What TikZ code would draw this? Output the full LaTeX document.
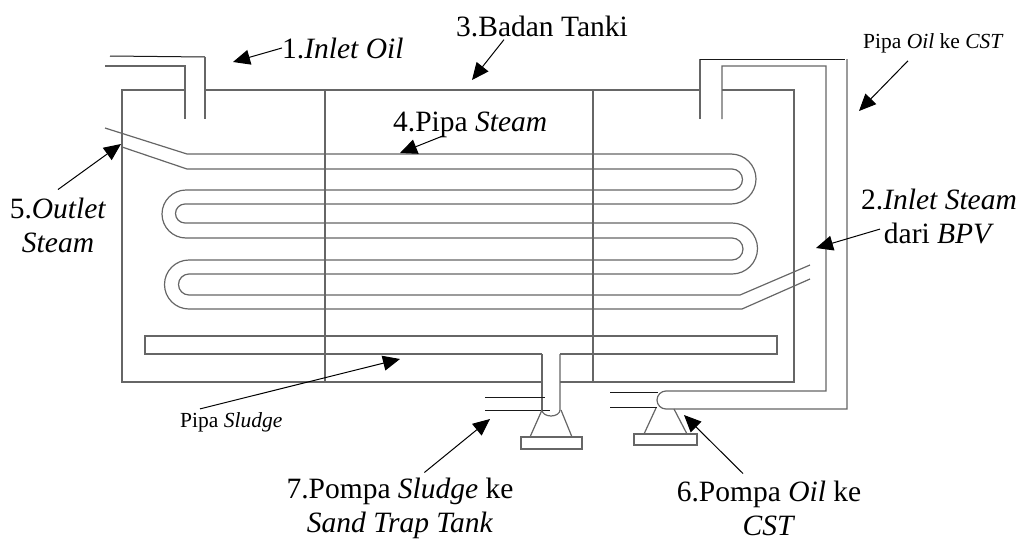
\documentclass[tikz,border=0pt]{standalone}
\usepackage{fontspec}
\setmainfont{Liberation Serif}
\usetikzlibrary{arrows.meta}
\tikzset{
  tankline/.style={draw=black!60,line width=1.2pt},
  darkline/.style={draw=black!90,line width=1pt},
  callout/.style={draw=black,line width=1pt,-{Triangle[length=17pt,width=15pt]}},
  biglabel/.style={inner sep=0pt,align=center,font=\fontsize{29.5}{33.8}\selectfont},
  smalllabel/.style={inner sep=0pt,font=\fontsize{21.5}{25}\selectfont}
}
\begin{document}
\begin{tikzpicture}[x=1pt,y=-1pt]

  \useasboundingbox (0,0) rectangle (1022,541);

  % tank
  \draw[tankline] (185,90) -- (122,90) -- (122,382) -- (542,382);
  \draw[tankline] (205,90) -- (700,90);
  \draw[tankline] (722,90) -- (794,90) -- (794,382) -- (560,382);
  \foreach \x in {325,593} {
    \draw[tankline] (\x,90) -- (\x,382);
  }

  % oil inlet and outlet
  \draw[tankline] (105,66) -- (185,66) -- (185,119);
  \draw[darkline] (110,56) -- (205,57);
  \draw[tankline] (205,57) -- (205,119);
  \draw[tankline] (700,119) -- (700,59);
  \draw[darkline] (700,59) -- (845,59);
  \draw[tankline] (722,119) -- (722,66) -- (826,66) -- (826,391) -- (666,391)
    arc[start angle=-90,end angle=-270,radius=9] -- (847,409) -- (847,59);

  % steam pipe
  \draw[tankline] (105,128) -- (187,154) -- (731,154)
    arc[start angle=-90,end angle=90,radius=25] -- (185,204)
    arc[start angle=-90,end angle=-270,radius=9.5] -- (732,223)
    arc[start angle=-90,end angle=90,radius=25.5] -- (189,274)
    arc[start angle=-90,end angle=-270,radius=10.5] -- (740,295) -- (810,265);
  \draw[tankline] (122,147) -- (187,169) -- (732,169)
    arc[start angle=-90,end angle=90,radius=10.5] -- (186,190)
    arc[start angle=-90,end angle=-270,radius=24] -- (732,238)
    arc[start angle=-90,end angle=90,radius=11] -- (189,260)
    arc[start angle=-90,end angle=-270,radius=24.5] -- (742,309) -- (810,279);

  % sludge pipe
  \draw[tankline] (542,354) -- (145,354) -- (145,336) -- (777,336) -- (777,354) -- (560,354);
  \draw[tankline] (542,354) -- (542,410);
  \draw[tankline] (560,354) -- (560,410) arc[start angle=0,end angle=180,x radius=9,y radius=6];

  % pumps
  \draw[darkline] (485,397) -- (545,397);
  \draw[darkline] (485,410) -- (550,410);
  \draw[tankline] (542,410) -- (530,437);
  \draw[tankline] (561,410) -- (572,437);
  \draw[tankline] (521,437) rectangle (582,449);
  \draw[darkline] (610,392) -- (658,392);
  \draw[darkline] (610,407) -- (657,407);
  \draw[tankline] (656,408) -- (644,434);
  \draw[tankline] (674,409) -- (687,434);
  \draw[tankline] (634,434) rectangle (697,445);

  % labels
  \node[biglabel,anchor=base west] (inletoil) at (282,58) {1.\textit{Inlet Oil}};
  \node[biglabel,anchor=base west] (badan) at (456,36) {3.Badan Tanki};
  \node[biglabel,anchor=base west] (pipasteam) at (393,131) {4.Pipa \textit{Steam}};
  \node[smalllabel,anchor=base west] (pipaoil) at (863,48) {Pipa \textit{Oil} ke \textit{CST}};
  \node[biglabel,anchor=base] (inletsteam) at (939,243) {2.\textit{Inlet Steam}\\dari \textit{BPV}};
  \node[biglabel,anchor=base] (outlet) at (58,252) {5.\textit{Outlet}\\\textit{Steam}};
  \node[smalllabel,anchor=base west] (pipasludge) at (180,427) {Pipa \textit{Sludge}};
  \node[biglabel,anchor=base] (pompasludge) at (400,532) {7.Pompa \textit{Sludge} ke\\\textit{Sand Trap Tank}};
  \node[biglabel,anchor=base] (pompaoil) at (769,535) {6.Pompa \textit{Oil} ke\\\textit{CST}};

  \coordinate (inletoiltip) at (233,62);
  \coordinate (badantip) at (472,80);
  \coordinate (pipasteamtip) at (400,153);
  \coordinate (pipaoiltip) at (859,111);
  \coordinate (inletsteamtip) at (816,248);
  \coordinate (outlettip) at (121,144);
  \coordinate (pipasludgetip) at (400,359);
  \coordinate (pompasludgetip) at (490,419);
  \coordinate (pompaoiltip) at (684,415);

  \draw[callout] (inletoil.west) -- (inletoiltip);
  \draw[callout] ([xshift=48pt,yshift=-3pt]badan.south west) -- (badantip);
  \draw[callout] ([xshift=51pt,yshift=2pt]pipasteam.south west) -- (pipasteamtip);
  \draw[callout] ([xshift=45pt,yshift=-8pt]pipaoil.south west) -- (pipaoiltip);
  \draw[callout] ([xshift=19pt,yshift=-13pt]inletsteam.west) -- (inletsteamtip);
  \draw[callout] ([yshift=8pt]outlet.north) -- (outlettip);
  \draw[callout] ([xshift=20pt,yshift=3pt]pipasludge.north west) -- (pipasludgetip);
  \draw[callout] ([xshift=138pt,yshift=5pt]pompasludge.north west) -- (pompasludgetip);
  \draw[callout] ([xshift=-26pt,yshift=7pt]pompaoil.north) -- (pompaoiltip);

\end{tikzpicture}
\end{document}
